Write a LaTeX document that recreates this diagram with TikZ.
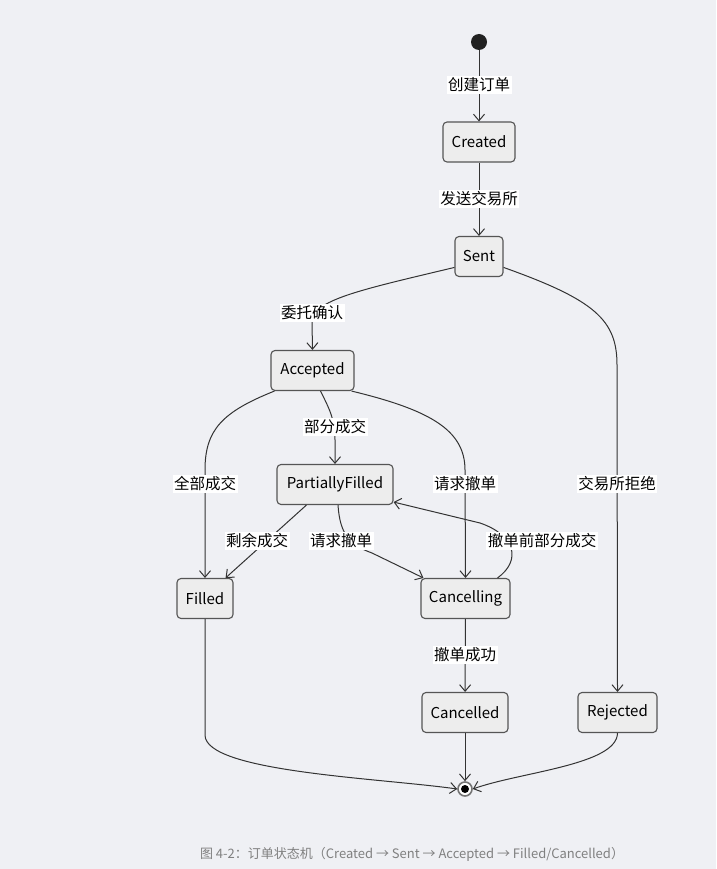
\documentclass[tikz,border=0pt]{standalone}
\usepackage{fontspec}
\setmainfont{Noto Sans CJK SC}
\usetikzlibrary{arrows.meta,calc}
\definecolor{bg}{HTML}{EFF0F4}
\definecolor{nodefill}{HTML}{EDEDED}
\definecolor{nodeedge}{HTML}{555555}
\definecolor{edgecol}{HTML}{333333}
\definecolor{captioncol}{HTML}{808080}
\tikzset{
  state/.style={draw=nodeedge, fill=nodefill, line width=1.1pt, rounded corners=4pt,
    minimum height=40pt, inner sep=0pt, font=\fontsize{15}{18}\selectfont, text=black},
  lbl/.style={fill=white, inner sep=1.5pt, font=\fontsize{15.5}{18}\selectfont, text=black},
  edge/.style={draw=edgecol, line width=1pt, -{Straight Barb[length=6.5pt,width=11pt]}},
}
\begin{document}
\begin{tikzpicture}[x=1pt,y=-1pt]
\fill[bg] (0,0) rectangle (716,869);
\useasboundingbox (0,0) rectangle (716,869);

% nodes
\node[circle, fill=black!87, inner sep=0pt, minimum size=16pt] (start) at (479,42) {};
\node[state, minimum width=72pt] (created) at (479,142) {\raisebox{-1pt}{Created}};
\node[state, minimum width=48pt] (sent) at (479,256.5) {\raisebox{-1pt}{Sent}};
\node[state, minimum width=83pt] (acc) at (312.5,370.5) {\raisebox{-1pt}{Accepted}};
\node[state, minimum width=116pt] (pf) at (335,484.5) {\raisebox{-1pt}{PartiallyFilled}};
\node[state, minimum width=56pt] (filled) at (205,598.5) {\raisebox{-1pt}{Filled}};
\node[state, minimum width=89pt] (cing) at (465.5,598.5) {\raisebox{-1pt}{Cancelling}};
\node[state, minimum width=86pt] (cdd) at (465,712.5) {\raisebox{-1pt}{Cancelled}};
\node[state, minimum width=79pt] (rej) at (617.5,712.5) {\raisebox{-1pt}{Rejected}};
\node[circle, draw=black!55, line width=1.6pt, fill=white, inner sep=0pt, minimum size=14pt] (endc) at (465,789) {};
\fill[black] (endc.center) circle (4pt);

% edges
\draw[edge] (start) -- (created);
\draw[edge] (created) -- (sent);
\draw[edge] (sent.204) .. controls (360,290) and (312,300) .. (312,322) -- (acc.north);
\draw[edge] (sent.336) .. controls (595,300) and (617,320) .. (617,365) -- (rej.north);
\draw[edge] ($(acc.south west)+(4,0)$) .. controls (222,412) and (205,430) .. (205,470) -- (filled.north);
\draw[edge] ($(acc.south east)+(-3,0)$) .. controls (430,410) and (465,430) .. (465,470) -- (cing.north);
\draw[edge] ($(acc.south)+(8,0)$) .. controls (330,410) and (335,420) .. (335,440) -- (pf.north);
\draw[edge] ($(pf.south west)+(30,0)$) -- ($(filled.north east)+(-8,0)$);
\draw[edge] ($(pf.south)+(3,0)$) .. controls (340,535) and (350,545) .. (372,553) -- ($(cing.north west)+(3,0)$);
\draw[edge] ($(cing.north east)+(-13,0)$) .. controls (522,560) and (515,535) .. (480,523) -- ($(pf.south east)+(0,-3)$);
\draw[edge] (cing) -- (cdd);
\draw[edge] (filled.south) -- (205,735) .. controls (205,772) and (380,778) .. (endc.west);
\draw[edge] (cdd) -- (endc);
\draw[edge] (rej.south) .. controls (617,765) and (520,772) .. (endc.east);

% labels
\node[lbl] (l1) at (479,85) {创建订单};
\node[lbl] (l2) at (479,199) {发送交易所};
\node[lbl] (l3) at (312,313) {委托确认};
\node[lbl] (l4) at (335,427) {部分成交};
\node[lbl] (l5) at (205,484) {全部成交};
\node[lbl] (l6) at (465,484) {请求撤单};
\node[lbl] (l7) at (617,484) {交易所拒绝};
\node[lbl] (l8) at (257,541) {剩余成交};
\node[lbl] (l9) at (341,541) {请求撤单};
\node[lbl] (l10) at (542,541) {撤单前部分成交};
\node[lbl] (l11) at (465,655) {撤单成功};

% caption
\node[text=captioncol, font=\fontsize{13}{15}\selectfont] (cap) at (412,854) {图 4-2：订单状态机（Created → Sent → Accepted → Filled/Cancelled）};
\end{tikzpicture}
\end{document}
